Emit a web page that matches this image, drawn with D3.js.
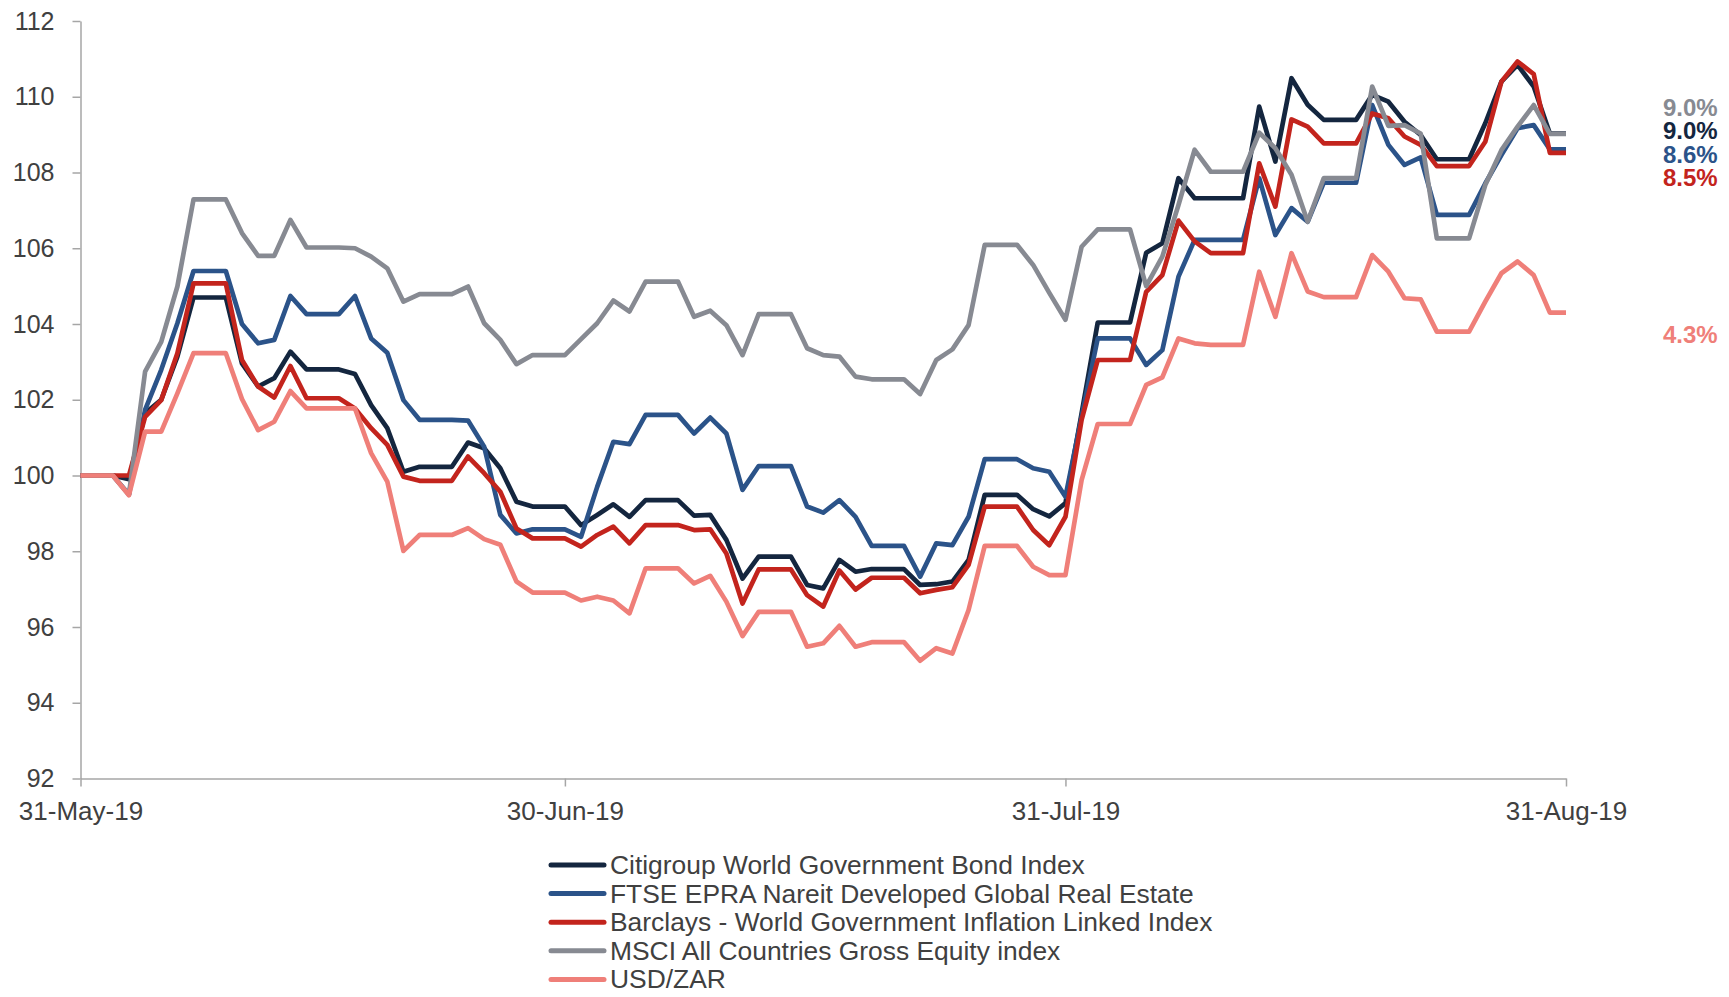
<!DOCTYPE html>
<html>
<head>
<meta charset="utf-8">
<script src="https://cdn.jsdelivr.net/npm/d3@7"></script>
<style>
  html, body { margin: 0; padding: 0; background: #fff; }
  #chart { width: 1729px; height: 997px; }
  text { font-family: "Liberation Sans", Arial, sans-serif; }
</style>
</head>
<body>
<div id="chart"></div>
<script>
// Daily index levels, 31-May-19 .. 31-Aug-19 (rebased to 100)
const startDate = new Date(2019, 4, 31);
const endDate = new Date(2019, 7, 31);
const tickDates = [new Date(2019, 4, 31), new Date(2019, 5, 30), new Date(2019, 6, 31), new Date(2019, 7, 31)];
const yTicks = [92, 94, 96, 98, 100, 102, 104, 106, 108, 110, 112];

const seriesNames = [
  "Citigroup World Government Bond Index",
  "FTSE EPRA Nareit Developed Global Real Estate",
  "Barclays - World Government Inflation Linked Index",
  "MSCI All Countries Gross Equity index",
  "USD/ZAR"
];

const citigroup = [
  100, 100, 100, 99.9, 101.64, 102.0, 103.14, 104.7, 104.7, 104.7,
  102.96, 102.35, 102.57, 103.27, 102.8, 102.8, 102.8, 102.68, 101.86, 101.25,
  100.1, 100.23, 100.23, 100.23, 100.87, 100.72, 100.19, 99.31, 99.18, 99.18,
  99.18, 98.69, 98.96, 99.24, 98.91, 99.35, 99.35, 99.35, 98.94, 98.96,
  98.3, 97.28, 97.86, 97.86, 97.86, 97.11, 97.02, 97.77, 97.46, 97.53,
  97.53, 97.53, 97.11, 97.13, 97.2, 97.77, 99.49, 99.49, 99.49, 99.11,
  98.92, 99.27, 101.64, 104.04, 104.04, 104.04, 105.88, 106.13, 107.85, 107.32,
  107.32, 107.32, 107.32, 109.74, 108.29, 110.49, 109.79, 109.39, 109.39, 109.39,
  110.05, 109.87, 109.34, 108.99, 108.35, 108.35, 108.35, 109.3, 110.4, 110.84,
  110.27, 109.03, 109.03
];

const ftse = [
  100, 100, 100, 99.5, 101.73, 102.79, 104.02, 105.4, 105.4, 105.4,
  104.0, 103.49, 103.58, 104.74, 104.26, 104.26, 104.26, 104.74, 103.62, 103.24,
  101.99, 101.47, 101.47, 101.47, 101.45, 100.76, 98.96, 98.47, 98.58, 98.58,
  98.58, 98.38, 99.7, 100.89, 100.83, 101.6, 101.6, 101.6, 101.11, 101.53,
  101.11, 99.62, 100.25, 100.25, 100.25, 99.18, 99.02, 99.35, 98.91, 98.14,
  98.14, 98.14, 97.33, 98.21, 98.16, 98.91, 100.43, 100.43, 100.43, 100.19,
  100.1, 99.44, 101.55, 103.62, 103.62, 103.62, 102.92, 103.31, 105.25, 106.22,
  106.22, 106.22, 106.22, 107.85, 106.35, 107.06, 106.7, 107.73, 107.73, 107.73,
  109.78, 108.73, 108.2, 108.4, 106.88, 106.88, 106.88, 107.71, 108.46, 109.17,
  109.25, 108.61, 108.61
];

const barclays = [
  100, 100, 100, 100.0, 101.55, 101.99, 103.23, 105.07, 105.07, 105.07,
  103.05, 102.35, 102.06, 102.89, 102.04, 102.04, 102.04, 101.77, 101.25, 100.81,
  99.97, 99.86, 99.86, 99.86, 100.5, 100.06, 99.57, 98.6, 98.34, 98.34,
  98.34, 98.12, 98.43, 98.65, 98.21, 98.69, 98.69, 98.69, 98.56, 98.58,
  97.94, 96.62, 97.52, 97.52, 97.52, 96.84, 96.54, 97.49, 96.99, 97.3,
  97.3, 97.3, 96.89, 96.98, 97.05, 97.64, 99.18, 99.18, 99.18, 98.56,
  98.16, 98.91, 101.47, 103.05, 103.05, 103.05, 104.85, 105.29, 106.73, 106.18,
  105.87, 105.87, 105.87, 108.24, 107.1, 109.4, 109.21, 108.77, 108.77, 108.77,
  109.56, 109.43, 108.95, 108.73, 108.17, 108.17, 108.17, 108.81, 110.4, 110.93,
  110.6, 108.52, 108.52
];

const msci = [
  100, 100, 100, 99.5, 102.74, 103.53, 104.99, 107.29, 107.29, 107.29,
  106.4, 105.8, 105.8, 106.75, 106.02, 106.02, 106.02, 106.0, 105.78, 105.47,
  104.59, 104.79, 104.79, 104.79, 104.99, 104.02, 103.58, 102.94, 103.18, 103.18,
  103.18, 103.6, 104.02, 104.62, 104.33, 105.12, 105.12, 105.12, 104.19, 104.35,
  103.97, 103.18, 104.26, 104.26, 104.26, 103.36, 103.18, 103.14, 102.61, 102.54,
  102.54, 102.54, 102.15, 103.05, 103.33, 103.97, 106.09, 106.09, 106.09, 105.56,
  104.82, 104.11, 106.04, 106.5, 106.5, 106.5, 105.0, 105.78, 107.14, 108.6,
  108.02, 108.02, 108.02, 109.05, 108.64, 107.94, 106.7, 107.85, 107.85, 107.85,
  110.27, 109.23, 109.25, 109.03, 106.26, 106.26, 106.26, 107.67, 108.59, 109.21,
  109.78, 109.02, 109.02
];

const usdZar = [
  100, 100, 100, 99.48, 101.16, 101.16, 102.17, 103.23, 103.23, 103.23,
  102.02, 101.2, 101.42, 102.23, 101.77, 101.77, 101.77, 101.77, 100.59, 99.84,
  98.01, 98.43, 98.43, 98.43, 98.61, 98.32, 98.17, 97.2, 96.91, 96.91,
  96.91, 96.7, 96.8, 96.7, 96.36, 97.55, 97.55, 97.55, 97.15, 97.35,
  96.67, 95.76, 96.4, 96.4, 96.4, 95.48, 95.57, 96.03, 95.48, 95.6,
  95.6, 95.6, 95.11, 95.44, 95.3, 96.45, 98.14, 98.14, 98.14, 97.59,
  97.37, 97.37, 99.88, 101.36, 101.36, 101.36, 102.39, 102.59, 103.62, 103.49,
  103.45, 103.45, 103.45, 105.38, 104.19, 105.87, 104.86, 104.71, 104.71, 104.71,
  105.82, 105.38, 104.68, 104.65, 103.8, 103.8, 103.8, 104.59, 105.34, 105.65,
  105.29, 104.3, 104.3
];

const seriesValues = [citigroup, ftse, barclays, msci, usdZar];
const seriesColors = ["#14263f", "#2b5389", "#c3241d", "#878a92", "#ef7f79"];

// 1. canvas
const width = 1729, height = 997;
const plot = { left: 80.5, right: 1566, top: 21, bottom: 778.5 };
const fontColor = "#404040";
const axisColor = "#a6a6a6";

const svg = d3.select("#chart")
  .append("svg")
  .attr("width", width)
  .attr("height", height)
  .attr("viewBox", [0, 0, width, height]);

const dates = d3.timeDay.range(startDate, d3.timeDay.offset(endDate, 1));

// 2. scales
const x = d3.scaleTime().domain([startDate, endDate]).range([plot.left, plot.right]);
const y = d3.scaleLinear().domain([92, 112]).range([plot.bottom, plot.top]);

// 3. axes
const yAxis = svg.append("g")
  .attr("transform", `translate(${plot.left},0)`)
  .call(d3.axisLeft(y).tickValues(yTicks).tickSize(8).tickSizeOuter(0).tickPadding(18).tickFormat(d3.format("d")));

const xAxis = svg.append("g")
  .attr("transform", `translate(0,${plot.bottom})`)
  .call(d3.axisBottom(x).tickValues(tickDates).tickSize(8).tickSizeOuter(0).tickPadding(15).tickFormat(d3.timeFormat("%d-%b-%y")));

[yAxis, xAxis].forEach(ax => {
  ax.select(".domain").attr("stroke", axisColor).attr("stroke-width", 1.5);
  ax.selectAll(".tick line").attr("stroke", axisColor).attr("stroke-width", 1.5);
  ax.selectAll(".tick text")
    .attr("fill", fontColor)
    .style("font-family", "'Liberation Sans', Arial, sans-serif");
});
yAxis.selectAll(".tick text").style("font-size", "25px");
xAxis.selectAll(".tick text").style("font-size", "26px");

// 4. lines (first series at the bottom, like the source)
const line = d3.line()
  .x((d, i) => x(dates[i]))
  .y(d => y(d));

svg.append("g")
  .selectAll("path")
  .data(seriesValues)
  .join("path")
  .attr("d", d => line(d))
  .attr("fill", "none")
  .attr("stroke", (d, i) => seriesColors[i])
  .attr("stroke-width", 4.7)
  .attr("stroke-linejoin", "round")
  .attr("stroke-linecap", "butt");

// 5. end labels (cumulative return), top cluster stacked in a fixed order
const labelOrder = [3, 0, 1, 2];
const labelGap = 23.4;
const clusterMid = d3.mean(labelOrder, i => y(seriesValues[i][seriesValues[i].length - 1]));
const labelY = {};
labelOrder.forEach((s, k) => {
  labelY[s] = clusterMid + (k - (labelOrder.length - 1) / 2) * labelGap;
});
labelY[4] = y(usdZar[usdZar.length - 1]) + 22; // placed below its line

svg.append("g")
  .selectAll("text")
  .data(seriesValues)
  .join("text")
  .attr("x", 1663)
  .attr("y", (d, i) => labelY[i])
  .attr("dominant-baseline", "central")
  .attr("fill", (d, i) => seriesColors[i])
  .style("font-size", "24px")
  .style("font-weight", "bold")
  .text(d => (d[d.length - 1] - 100).toFixed(1) + "%");

// 6. legend
const legend = svg.append("g")
  .attr("transform", "translate(551,865)");

const rows = legend.selectAll("g")
  .data(seriesNames)
  .join("g")
  .attr("transform", (d, i) => `translate(0,${i * 28.6})`);

rows.append("line")
  .attr("x1", 0).attr("x2", 53)
  .attr("stroke", (d, i) => seriesColors[i])
  .attr("stroke-width", 5)
  .attr("stroke-linecap", "round");

rows.append("text")
  .attr("x", 59)
  .attr("dominant-baseline", "central")
  .attr("fill", fontColor)
  .style("font-size", "26.4px")
  .text(d => d);
</script>
</body>
</html>
